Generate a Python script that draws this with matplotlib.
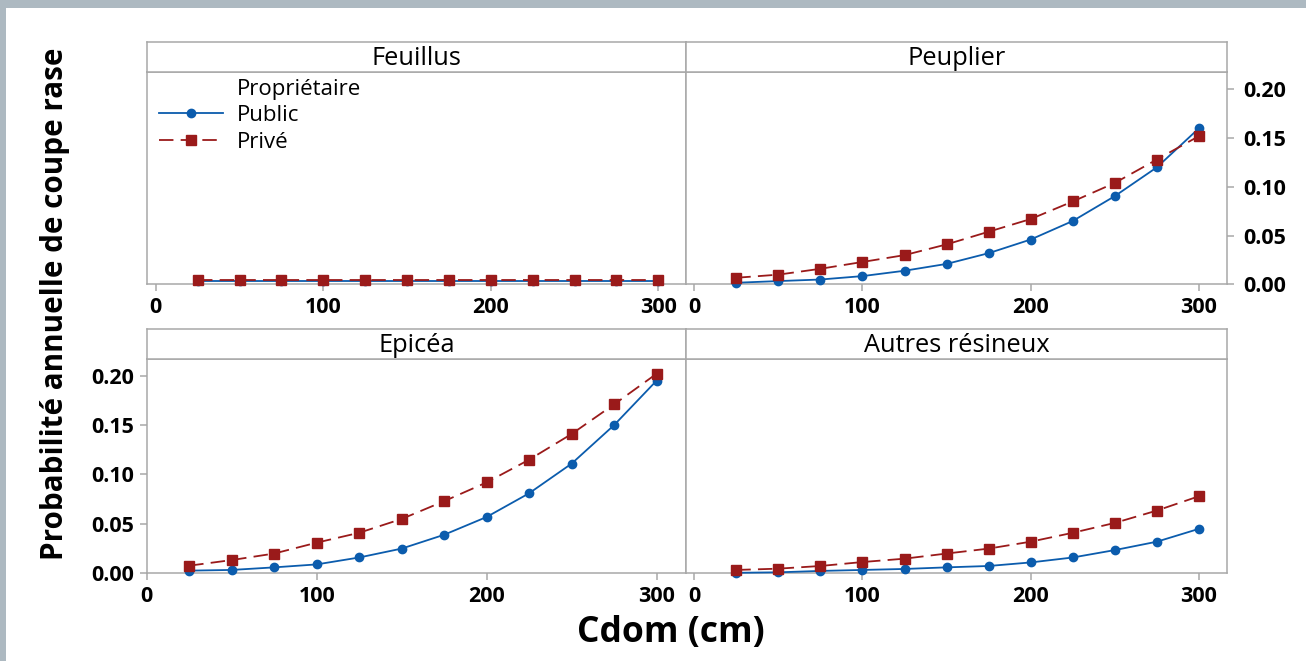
import numpy as np
import matplotlib
matplotlib.use("Agg")
import matplotlib.pyplot as plt
from matplotlib.lines import Line2D
from matplotlib.patches import Rectangle
from matplotlib.ticker import FormatStrFormatter

plt.rcParams["font.family"] = ["Open Sans", "DejaVu Sans"]

# Cdom (cm) at which the model was evaluated
cdom = [25, 50, 75, 100, 125, 150, 175, 200, 225, 250, 275, 300]

# annual clear-cut probability, public vs private owners
feuillus_public = [0.003] * 12
feuillus_prive = [0.0045] * 12
peuplier_public = [0.0017, 0.0034, 0.005, 0.0085, 0.014, 0.021, 0.032, 0.046, 0.065, 0.0905, 0.120, 0.160]
peuplier_prive = [0.0068, 0.010, 0.016, 0.023, 0.030, 0.041, 0.054, 0.067, 0.085, 0.104, 0.128, 0.152]
epicea_public = [0.0027, 0.0034, 0.006, 0.009, 0.016, 0.025, 0.039, 0.057, 0.081, 0.111, 0.150, 0.195]
epicea_prive = [0.0077, 0.0134, 0.020, 0.031, 0.041, 0.055, 0.073, 0.092, 0.115, 0.141, 0.171, 0.202]
autres_public = [0.0005, 0.001, 0.0024, 0.0034, 0.0044, 0.006, 0.0074, 0.011, 0.016, 0.0235, 0.032, 0.045]
autres_prive = [0.0034, 0.0047, 0.0074, 0.0114, 0.0148, 0.020, 0.025, 0.032, 0.041, 0.051, 0.0635, 0.078]

species = ["Feuillus", "Peuplier", "Epicéa", "Autres résineux"]
owners = ["Public", "Privé"]
y_ticks = [0.00, 0.05, 0.10, 0.15, 0.20]
x_ticks = [0, 100, 200, 300]

W, H = 1306, 661
BLUE = "#0b5cad"
RED = "#9a1a1a"
FRAME = "#a8a8a8"


def box(x0, y0, x1, y1):
    """pixel box (top-left origin) -> figure fraction rect"""
    return [x0 / W, 1 - y1 / H, (x1 - x0) / W, (y1 - y0) / H]


fig = plt.figure(figsize=(W / 100, H / 100), dpi=100)
fig.patch.set_facecolor("#adb9c1")
fig.patches.append(Rectangle((6 / W, 0), 1, 1 - 8 / H, transform=fig.transFigure,
                             facecolor="white", edgecolor="none", zorder=-1))

# (name, public, private, plot box, strip box, xlim, y tick side)
panels = [
    ("Feuillus", feuillus_public, feuillus_prive,
     (146.7, 71.5, 686, 284.4), (146.7, 41.7, 686, 71.5), (-5.4, 316.5), None),
    ("Peuplier", peuplier_public, peuplier_prive,
     (686, 71.5, 1226.7, 284.4), (686, 41.7, 1226.7, 71.5), (-4.9, 316.5), "right"),
    ("Epicéa", epicea_public, epicea_prive,
     (146.7, 359, 686, 573.3), (146.7, 329, 686, 359), (0, 317.3), "left"),
    ("Autres résineux", autres_public, autres_prive,
     (686, 359, 1226.7, 573.3), (686, 329, 1226.7, 359), (-4.9, 316.5), None),
]

axes = {}
for name, pub, prv, pbox, sbox, xlim, yside in panels:
    ax = fig.add_axes(box(*pbox))
    ax.plot(cdom, pub, color=BLUE, lw=1.3, marker="o", ms=6, clip_on=False, zorder=3)
    ax.plot(cdom, prv, color=RED, lw=1.3, dashes=(8, 4), marker="s", ms=7,
            clip_on=False, zorder=4)
    ax.set_xlim(*xlim)
    ax.set_ylim(0, 0.2182 if pbox[1] < 100 else 0.2169)
    ax.set_xticks(x_ticks)
    ax.set_yticks(y_ticks)
    ax.yaxis.set_major_formatter(FormatStrFormatter("%.2f"))
    for sp in ax.spines.values():
        sp.set_color(FRAME)
        sp.set_linewidth(1.1)
    ax.tick_params(colors=FRAME, width=1.1, length=5, labelcolor="black",
                   labelsize=15.5, pad=4)
    if yside == "right":
        ax.yaxis.tick_right()
        ax.tick_params(axis="y", pad=7)
    elif yside is None:
        ax.tick_params(axis="y", left=False, labelleft=False)
    for tk in ax.xaxis.get_major_ticks() + ax.yaxis.get_major_ticks():
        tk.label1.set_fontweight("bold")
        tk.label2.set_fontweight("bold")

    strip = fig.add_axes(box(*sbox))
    strip.set_xticks([])
    strip.set_yticks([])
    for sp in strip.spines.values():
        sp.set_color(FRAME)
        sp.set_linewidth(1.1)
    strip.text(0.5, 0.45, name, ha="center", va="center", fontsize=18.3,
               transform=strip.transAxes)
    axes[name] = ax

# legend inside the first panel
handles = [
    Line2D([], [], color=BLUE, lw=1.3, marker="o", ms=6),
    Line2D([], [], color=RED, lw=1.3, dashes=(8, 4), marker="s", ms=7),
]
axes["Feuillus"].legend(handles, owners, loc="upper left",
                        bbox_to_anchor=(159 / W, 1 - 105 / H),
                        bbox_transform=fig.transFigure, frameon=False,
                        borderpad=0, borderaxespad=0, handlelength=2.9,
                        handletextpad=0.6, labelspacing=0.27, fontsize=16)
fig.text(237 / W, 1 - 90 / H, "Propriétaire", fontsize=16, va="center", ha="left")

fig.text(55 / W, 1 - 304 / H, "Probabilité annuelle de coupe rase", rotation=90,
         ha="center", va="center", fontsize=21.3, fontweight="bold")
fig.text(671 / W, 1 - 633 / H, "Cdom (cm)", ha="center", va="center",
         fontsize=25.5, fontweight="bold")

fig.savefig("out.png", dpi=100)
